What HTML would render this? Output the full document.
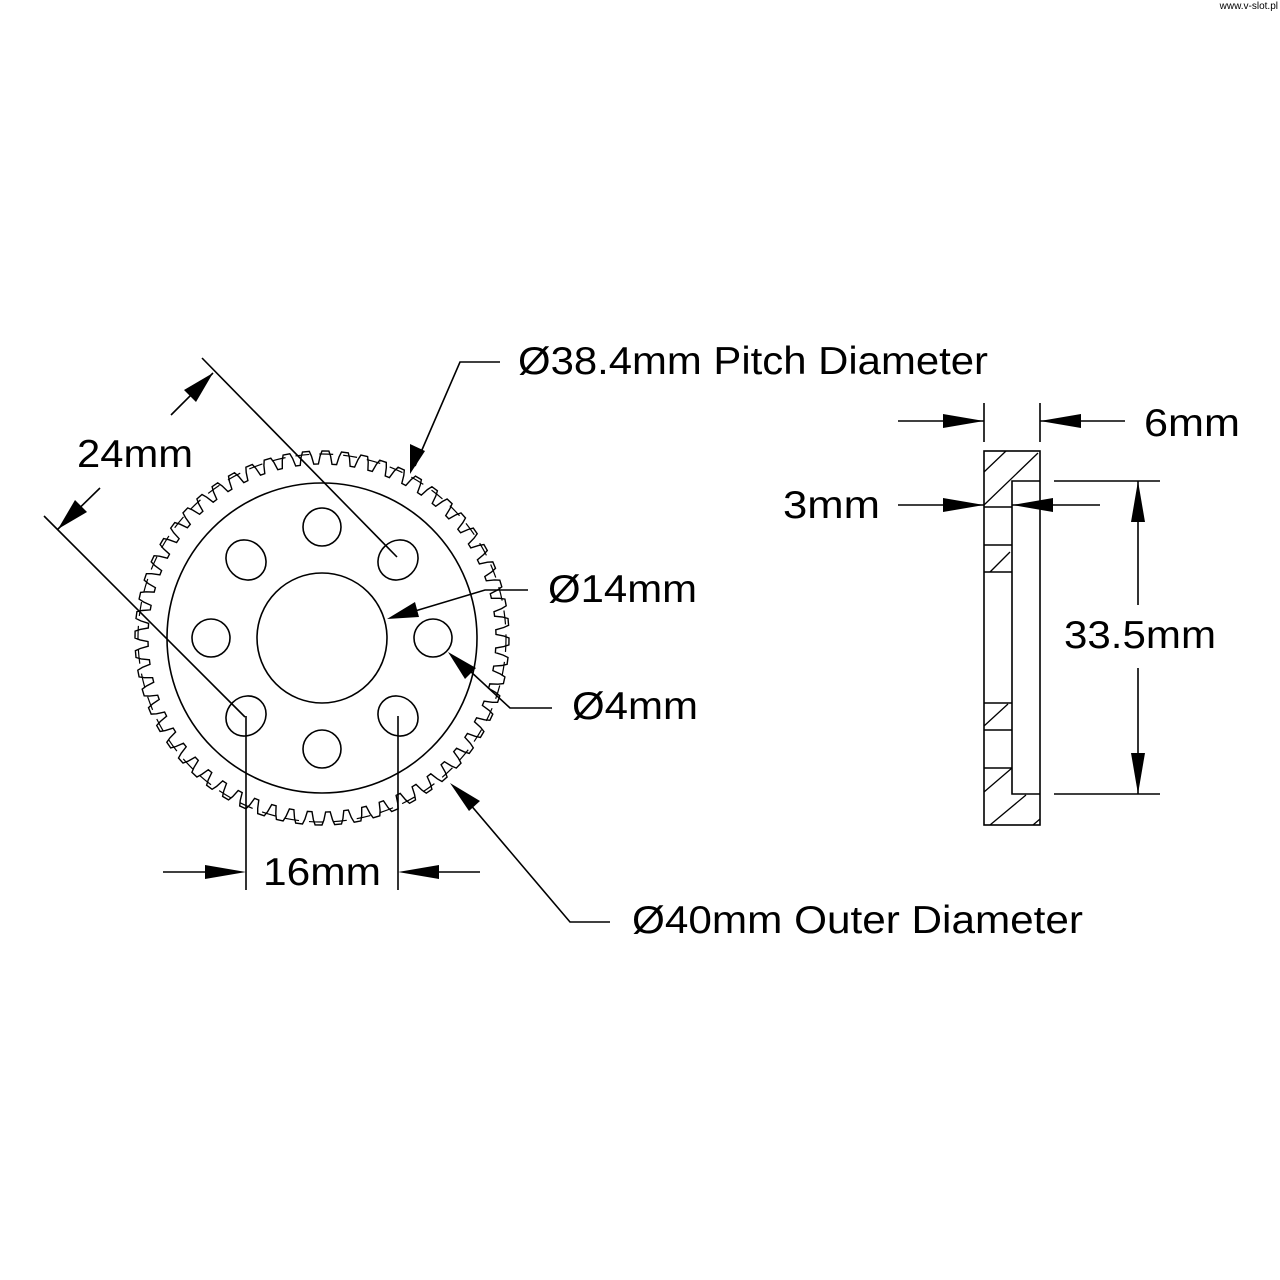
<!DOCTYPE html>
<html><head><meta charset="utf-8"><style>
html,body{margin:0;padding:0;background:#fff;}
svg{display:block}
text{font-family:"Liberation Sans","DejaVu Sans",sans-serif;fill:#000}
</style></head><body>
<svg width="1280" height="1280" viewBox="0 0 1280 1280" xmlns="http://www.w3.org/2000/svg">
<text x="1278" y="9" font-size="10" text-anchor="end">www.v-slot.pl</text>
<g fill="none" stroke="#000" stroke-width="1.6">
  <circle cx="322" cy="638" r="155"/>
  <circle cx="322" cy="638" r="65"/>
  <circle cx="322" cy="527" r="19"/>
  <circle cx="433" cy="638" r="19"/>
  <circle cx="322" cy="749" r="19"/>
  <circle cx="211" cy="638" r="19"/>
  <ellipse cx="398" cy="560" rx="21" ry="19" transform="rotate(-45 398 560)"/>
  <ellipse cx="246" cy="560" rx="21" ry="19" transform="rotate(45 246 560)"/>
  <ellipse cx="398" cy="716" rx="21" ry="19" transform="rotate(45 398 716)"/>
  <ellipse cx="246" cy="716" rx="21" ry="19" transform="rotate(-45 246 716)"/>
  <path id="teeth" stroke-width="1.4"/>
  <circle cx="322" cy="638" r="184" stroke-width="1.2" stroke-dasharray="14 10"/>
</g>
<g stroke="#000" stroke-width="1.6" fill="none">
  <line x1="202" y1="358" x2="397" y2="557"/>
  <line x1="44" y1="516" x2="245" y2="717"/>
  <line x1="171" y1="415" x2="213" y2="373"/>
  <line x1="58" y1="529" x2="100" y2="488"/>
  <polyline points="500,362 460,362 415,466"/>
  <polyline points="528,590 485,590 395,617"/>
  <polyline points="552,708 510,708 456,658"/>
  <line x1="246" y1="716" x2="246" y2="890"/>
  <line x1="398" y1="716" x2="398" y2="890"/>
  <line x1="163" y1="872" x2="240" y2="872"/>
  <line x1="404" y1="872" x2="480" y2="872"/>
  <polyline points="610,922 570,922 458,790"/>
  <rect x="984" y="451" width="56" height="374"/>
  <polyline points="1040,481 1012,481 1012,794 1040,794"/>
  <line x1="984" y1="507" x2="1012" y2="507"/>
  <line x1="984" y1="545" x2="1012" y2="545"/>
  <line x1="984" y1="572" x2="1012" y2="572"/>
  <line x1="984" y1="703" x2="1012" y2="703"/>
  <line x1="984" y1="730" x2="1012" y2="730"/>
  <line x1="984" y1="768" x2="1012" y2="768"/>
  <g stroke-width="1.3">
  <line x1="984" y1="472" x2="1006" y2="451"/>
  <line x1="984" y1="505" x2="1038" y2="453"/>
  <line x1="990" y1="572" x2="1010" y2="552"/>
  <line x1="984" y1="726" x2="1008" y2="704"/>
  <line x1="984" y1="792" x2="1012" y2="768"/>
  <line x1="990" y1="825" x2="1026" y2="795"/>
  <line x1="1033" y1="825" x2="1040" y2="819"/>
  </g>
  <line x1="984" y1="403" x2="984" y2="442"/>
  <line x1="1040" y1="403" x2="1040" y2="442"/>
  <line x1="898" y1="421" x2="984" y2="421"/>
  <line x1="1040" y1="421" x2="1125" y2="421"/>
  <line x1="898" y1="505" x2="984" y2="505"/>
  <line x1="1012" y1="505" x2="1100" y2="505"/>
  <line x1="1054" y1="481" x2="1160" y2="481"/>
  <line x1="1054" y1="794" x2="1160" y2="794"/>
  <line x1="1138" y1="481" x2="1138" y2="605"/>
  <line x1="1138" y1="668" x2="1138" y2="794"/>
</g>
<g fill="#000">
  <polygon points="213,373 196,402 184,390"/>
  <polygon points="58,529 75,500 87,512"/>
  <polygon points="410,474 410,444 425,451"/>
  <polygon points="387,619 415,602 419,617"/>
  <polygon points="448,652 476,668 465,679"/>
  <polygon points="246,872 205,865 205,879"/>
  <polygon points="398,872 439,865 439,879"/>
  <polygon points="450,783 480,801 469,811"/>
  <polygon points="984,421 943,414 943,428"/>
  <polygon points="1040,421 1081,414 1081,428"/>
  <polygon points="984,505 943,498 943,512"/>
  <polygon points="1012,505 1053,498 1053,512"/>
  <polygon points="1138,481 1131,522 1145,522"/>
  <polygon points="1138,794 1131,753 1145,753"/>
</g>
<g font-size="39" lengthAdjust="spacingAndGlyphs">
  <text x="77" y="467" textLength="116" lengthAdjust="spacingAndGlyphs">24mm</text>
  <text x="518" y="374" textLength="470" lengthAdjust="spacingAndGlyphs">Ø38.4mm Pitch Diameter</text>
  <text x="548" y="602" textLength="149" lengthAdjust="spacingAndGlyphs">Ø14mm</text>
  <text x="572" y="719" textLength="126" lengthAdjust="spacingAndGlyphs">Ø4mm</text>
  <text x="263" y="885" textLength="118" lengthAdjust="spacingAndGlyphs">16mm</text>
  <text x="632" y="933" textLength="451" lengthAdjust="spacingAndGlyphs">Ø40mm Outer Diameter</text>
  <text x="1144" y="436" textLength="96" lengthAdjust="spacingAndGlyphs">6mm</text>
  <text x="783" y="518" textLength="97" lengthAdjust="spacingAndGlyphs">3mm</text>
  <text x="1064" y="648" textLength="152" lengthAdjust="spacingAndGlyphs">33.5mm</text>
</g>
</svg>
<script>
(function(){
var cx=322,cy=638,N=60,d="";
function p(r,a){return (cx+r*Math.cos(a)).toFixed(1)+","+(cy+r*Math.sin(a)).toFixed(1);}
var st=2*Math.PI/N;
for(var i=0;i<N;i++){
 var a=i*st;
 var pts=[[187,a],[187,a+st*0.35],[182,a+st*0.45],[174,a+st*0.55],[174,a+st*0.8],[182,a+st*0.9],[187,a+st]];
 for(var j=0;j<pts.length;j++){d+=(i==0&&j==0?"M":"L")+p(pts[j][0],pts[j][1]);}
}
d+="Z";
document.getElementById("teeth").setAttribute("d",d);
})();
</script>
</body></html>
